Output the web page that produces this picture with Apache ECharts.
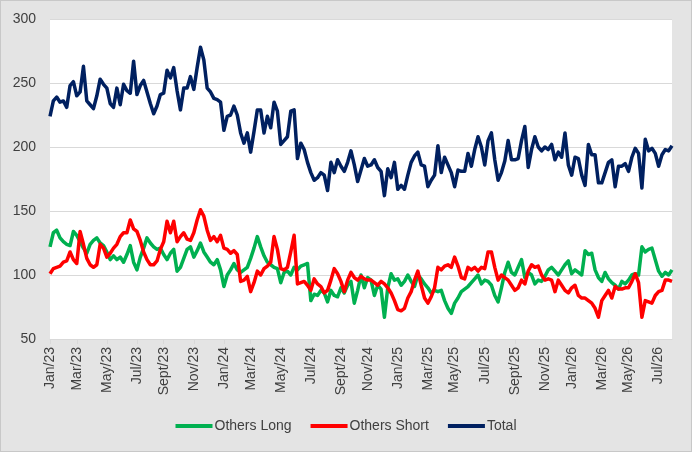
<!DOCTYPE html>
<html><head><meta charset="utf-8">
<script src="https://cdn.jsdelivr.net/npm/echarts@6/dist/echarts.min.js"></script>
<style>html,body{margin:0;padding:0;background:#fff;}
#c{position:absolute;left:0;top:0;width:690px;height:450px;border:1px solid #c8c8c8;background:#e4e4e4;}</style>
</head><body><div id="c"></div>
<script>
const startDate = Date.UTC(2023, 0, 3);
const weekCount = 187;
const monthNames = ['Jan','Feb','Mar','Apr','May','Jun','Jul','Aug','Sept','Oct','Nov','Dec'];
const seriesNames = ['Others Long', 'Others Short', 'Total'];
const yTicks = [50, 100, 150, 200, 250, 300];

const othersLong = [
122,133,135,129,126,124,123,134,131,126,
121,117,124,127,129,125,123,118,112,115,
112,114,110,116,123,110,104,114,121,129,
125,122,120,121,116,112,117,120,103,106,
113,120,122,114,119,125,118,114,110,108,
112,104,91,100,104,109,104,102,104,106,
113,121,130,122,115,110,108,106,105,94,
102,103,100,106,104,107,108,109,80,85,
84,88,86,79,88,84,83,90,86,92,
95,78,88,100,90,98,96,84,92,89,
67,90,101,96,97,92,95,100,95,91,
100,97,93,90,86,88,87,88,80,74,
70,78,82,87,89,91,94,97,100,93,
96,95,92,84,79,90,102,110,102,100,
106,112,98,102,100,93,96,95,99,104,
106,103,100,104,108,111,101,104,102,100,
119,116,117,104,98,95,102,97,94,92,
89,95,93,96,100,101,100,122,118,120,
121,112,103,99,102,100,104];

const othersShort = [
101,105,106,107,110,111,118,112,109,134,
124,113,108,106,108,124,121,114,117,121,
124,130,133,133,143,136,134,127,118,112,
108,108,111,120,126,142,133,142,126,130,
133,128,127,133,143,151,146,135,127,130,
126,131,121,120,117,119,116,95,96,99,
87,94,103,100,105,107,110,130,120,105,
104,106,118,131,93,94,95,92,88,97,
93,91,86,88,96,105,101,95,87,96,
102,98,96,99,97,96,96,94,92,95,
93,90,86,80,73,72,74,82,87,96,
103,92,82,78,83,90,106,104,107,108,
106,114,107,98,97,106,104,106,103,106,
105,118,118,106,96,100,98,96,92,88,
90,96,93,103,108,106,107,100,96,97,
96,87,96,92,88,86,90,92,84,82,
82,80,78,74,67,80,84,88,82,91,
89,89,90,90,95,101,94,67,80,79,
78,84,87,88,96,96,95];

const total = [
224,236,239,235,236,231,248,251,240,243,
263,236,233,230,240,253,249,246,234,231,
246,233,249,244,242,267,241,248,252,243,
234,226,232,241,242,260,254,262,244,229,
246,246,255,245,262,278,268,246,243,238,
237,235,213,224,225,232,225,211,203,211,
196,212,229,229,211,224,215,235,228,202,
205,208,228,229,191,203,198,188,180,174,
176,180,178,166,188,180,190,185,181,188,
197,186,173,182,191,185,186,190,184,181,
162,183,176,188,167,170,167,178,188,193,
196,186,185,169,174,178,201,180,192,186,
180,169,182,181,181,195,185,198,208,200,
186,205,211,190,174,180,189,205,190,190,
191,205,216,184,198,208,200,197,200,198,
202,190,196,192,211,186,178,192,191,178,
170,202,194,194,172,172,180,188,190,169,
185,185,187,181,192,199,195,168,206,197,
199,195,185,194,198,197,201];

const weekMs = 7 * 864e5;
const dates = [];
for (let i = 0; i < weekCount; i++) dates.push(startDate + i * weekMs);
const categories = dates.map(d => new Date(d).toISOString().slice(0, 10));

// week index nearest to the first day of each odd month -> labelled tick
const labelAt = {};
for (let y = 2023; y <= 2026; y++) {
  for (let m = 0; m < 12; m += 2) {
    const idx = Math.round((Date.UTC(y, m, 1) - startDate) / weekMs);
    if (idx >= 0 && idx < weekCount) labelAt[idx] = monthNames[m] + '/' + String(y).slice(2);
  }
}
const showTick = (i) => labelAt[i] !== undefined;

const font = 'Liberation Sans, Arial, sans-serif';
const chart = echarts.init(document.getElementById('c'), null, {renderer: 'canvas'});
chart.setOption({
  animation: false,
  backgroundColor: '#e4e4e4',
  textStyle: {fontFamily: font},
  grid: {left: 49, right: 19, top: 18, bottom: 112, show: true, backgroundColor: '#ffffff', borderWidth: 0},
  legend: {
    data: seriesNames,
    left: 'center', top: 413,
    icon: 'rect', itemWidth: 37, itemHeight: 4, itemGap: 19,
    textStyle: {color: '#404040', fontSize: 14, fontFamily: font, padding: [0, 0, 0, -3]}
  },
  xAxis: {
    type: 'category', data: categories, boundaryGap: false,
    axisLine: {lineStyle: {color: '#d9d9d9', width: 1}},
    axisTick: {show: true, interval: showTick, length: 5, lineStyle: {color: '#d9d9d9'}},
    axisLabel: {interval: showTick, rotate: 90, margin: 8, fontSize: 14, color: '#404040', fontFamily: font,
      formatter: (v, i) => labelAt[i] || ''},
    splitLine: {show: false}
  },
  yAxis: {
    type: 'value', min: yTicks[0], max: yTicks[yTicks.length - 1], interval: 50,
    axisLine: {show: false}, axisTick: {show: false},
    axisLabel: {fontSize: 14, color: '#404040', margin: 14, fontFamily: font},
    splitLine: {lineStyle: {color: '#d9d9d9', width: 1}}
  },
  series: [
    {name: seriesNames[0], type: 'line', data: othersLong, showSymbol: false, symbol: 'none', color: '#00b050', lineStyle: {width: 3.5, color: '#00b050', join: 'round'}},
    {name: seriesNames[1], type: 'line', data: othersShort, showSymbol: false, symbol: 'none', color: '#ff0000', lineStyle: {width: 3.5, color: '#ff0000', join: 'round'}},
    {name: seriesNames[2], type: 'line', data: total, showSymbol: false, symbol: 'none', color: '#002060', lineStyle: {width: 3.5, color: '#002060', join: 'round'}}
  ]
});
</script></body></html>
